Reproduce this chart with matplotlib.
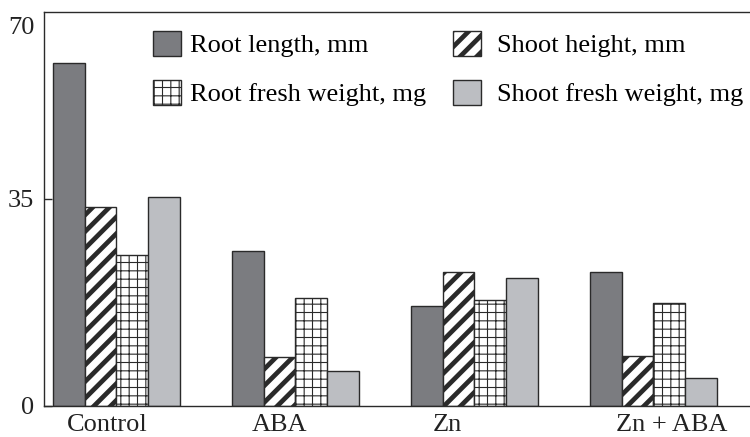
import numpy as np
import matplotlib
matplotlib.use("Agg")
from matplotlib import pyplot as plt
from matplotlib.patches import Patch

plt.rcParams['font.family'] = ['Liberation Serif', 'DejaVu Serif']
plt.rcParams['font.size'] = 19

groups = ["Control", "ABA", "Zn", "Zn + ABA"]
series = ["Root length, mm", "Shoot height, mm",
          "Root fresh weight, mg", "Shoot fresh weight, mg"]
root_length = [58.0, 26.2, 16.9, 22.7]
shoot_height = [33.7, 8.2, 22.7, 8.5]
root_fresh = [25.5, 18.3, 18.0, 17.4]
shoot_fresh = [35.3, 6.0, 21.7, 4.8]
yticks = [0, 35]

# look of each series: face colour, hatch, hatch line width
styles = [("#7b7c80", "", 1.0),
          ("white", "//", 3.4),
          ("white", "++", 0.8),
          ("#bcbec2", "", 1.0)]
edge = "#2a2a2a"

fig = plt.figure(figsize=(7.5, 4.37), dpi=100)
ax = fig.add_axes([44/750, 31/437, 1 - 44/750, 394/437])

x = np.arange(len(groups))
w = 0.177
handles = []
for k, vals in enumerate([root_length, shoot_height, root_fresh, shoot_fresh]):
    fc, hatch, hlw = styles[k]
    with plt.rc_context({'hatch.linewidth': hlw, 'hatch.color': 'black'}):
        ax.bar(x - 1.5*w + k*w, vals, w, color=fc, hatch=hatch,
               edgecolor=edge, linewidth=1.0, align='center')
        h = Patch(facecolor=fc, hatch=hatch, edgecolor=edge, linewidth=1.0)
    handles.append(h)

ax.set_xlim(-0.405, 3.54)
ax.set_ylim(0, 66.6)

# spines
ax.spines['right'].set_visible(False)
for s in ['left', 'top', 'bottom']:
    ax.spines[s].set_linewidth(1.0)
    ax.spines[s].set_color(edge)

ax.set_yticks(yticks)
ax.set_yticklabels([str(t) for t in yticks])
ax.tick_params(axis='y', direction='in', length=6, width=1.0, pad=7, color=edge)
ax.annotate('70', xy=(0, 1), xycoords='axes fraction', xytext=(-7, -11.5),
            textcoords='offset points', ha='right', va='center', color='#222')

# group labels sit a little off the group centres in the original
label_shift = [-0.05, -0.09, -0.15, 0.10]
ax.set_xticks(x + np.array(label_shift))
ax.set_xticklabels(groups)
ax.tick_params(axis='x', length=0, pad=6)
for t in ax.get_xticklabels() + ax.get_yticklabels():
    t.set_color('#222')

leg_kw = dict(frameon=False, handlelength=1.07, handleheight=1.07,
              labelspacing=0.85, borderpad=0,
              borderaxespad=0, loc='upper left')
with plt.rc_context({'hatch.linewidth': 0.8, 'hatch.color': 'black'}):
    leg1 = ax.legend([handles[0], handles[2]], [series[0], series[2]],
                     bbox_to_anchor=(153/750, 1 - 31/437),
                     bbox_transform=fig.transFigure,
                     handletextpad=0.34, **leg_kw)
ax.add_artist(leg1)
with plt.rc_context({'hatch.linewidth': 3.4, 'hatch.color': 'black'}):
    ax.legend([handles[1], handles[3]], [series[1], series[3]],
              bbox_to_anchor=(453/750, 1 - 31/437),
              bbox_transform=fig.transFigure,
              handletextpad=0.58, **leg_kw)

plt.savefig('out.png', dpi=100)
